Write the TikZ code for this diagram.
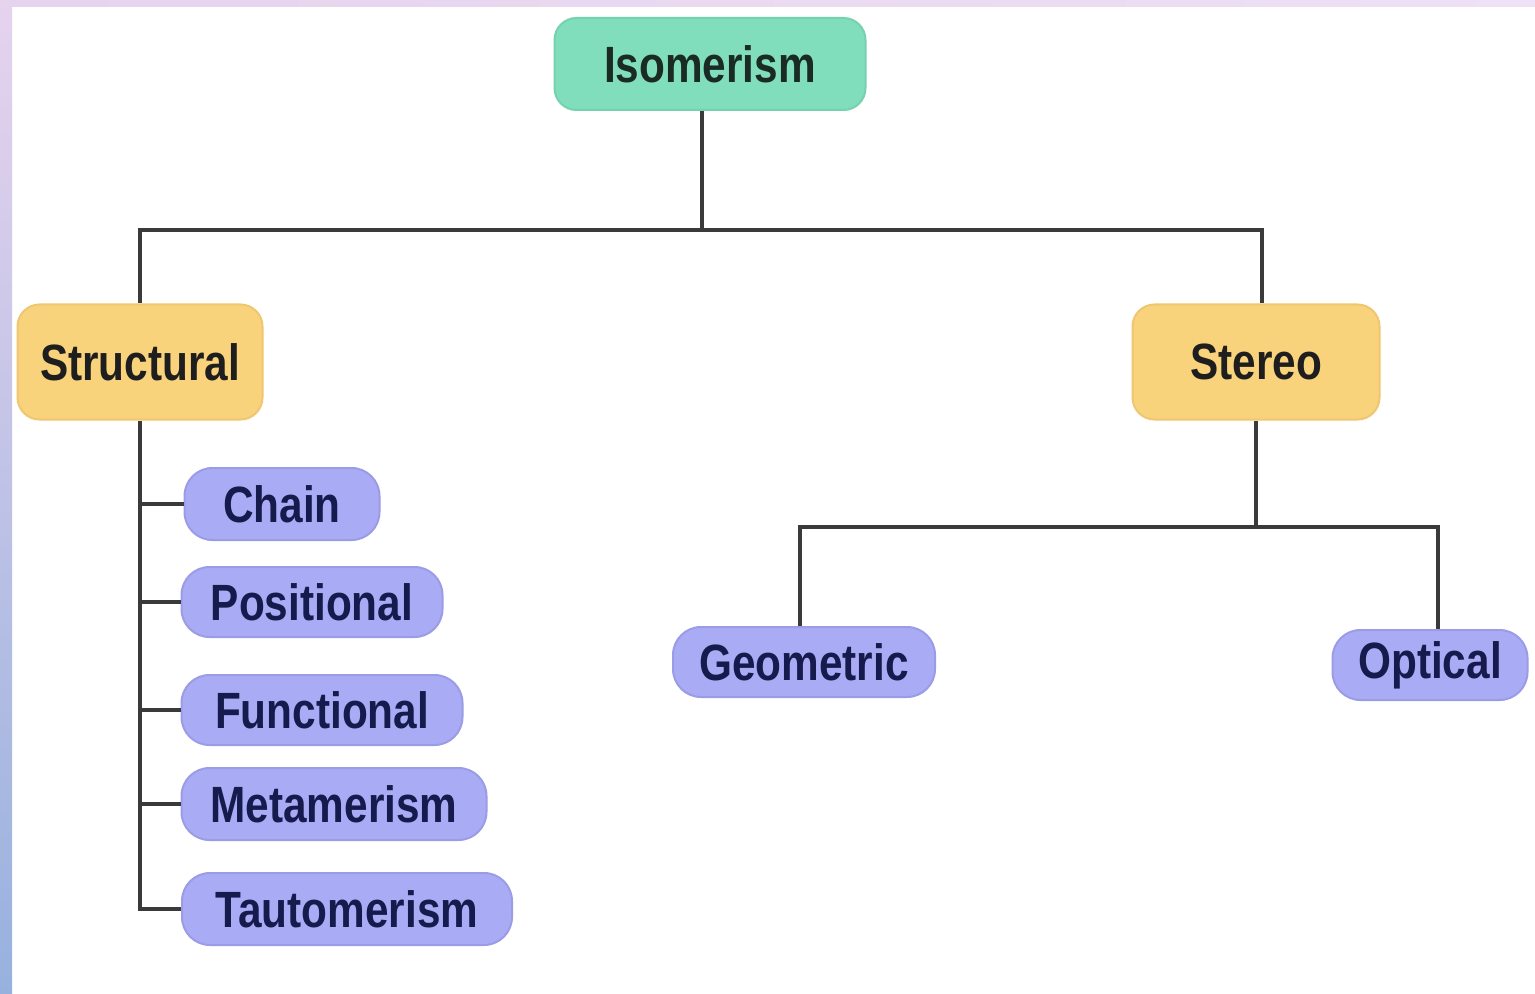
\documentclass[tikz,border=0pt]{standalone}
\usepackage{fontspec}
\setmainfont{Liberation Sans}[FakeStretch=0.83]
\usetikzlibrary{positioning}
\definecolor{mint}{HTML}{80DEBD}
\definecolor{mintedge}{HTML}{74D2B0}
\definecolor{gold}{HTML}{F9D27C}
\definecolor{goldedge}{HTML}{F0C670}
\definecolor{lav}{HTML}{A9ABF5}
\definecolor{lavedge}{HTML}{9A9CE6}
\definecolor{wire}{HTML}{3A3A3A}
\definecolor{txtdark}{HTML}{1E1E1E}
\definecolor{txtnavy}{HTML}{161A4C}
\definecolor{txtgreen}{HTML}{1A2A25}
\tikzset{
  box/.style={rectangle, rounded corners=11pt, inner sep=0pt, line width=1pt,
    font=\bfseries\fontsize{25.5}{28}\selectfont},
  rootbox/.style={box, fill=mint, draw=mintedge, text=txtgreen},
  catbox/.style={box, fill=gold, draw=goldedge, text=txtdark},
  leafbox/.style={box, fill=lav, draw=lavedge, text=txtnavy, rounded corners=14pt},
  wireline/.style={draw=wire, line width=2pt}
}
\begin{document}
\begin{tikzpicture}[x=0.5pt,y=-0.5pt]
\useasboundingbox (0,0) rectangle (1535,994);
\fill[white] (0,0) rectangle (1535,994);
\shade[top color={rgb,255:red,230;green,211;blue,238}, bottom color={rgb,255:red,151;green,177;blue,222}] (0,0) rectangle (12,994);
\shade[left color={rgb,255:red,230;green,211;blue,238}, right color={rgb,255:red,238;green,224;blue,245}] (12,0) rectangle (1535,7);

% nodes
\node[rootbox, minimum width=155.5pt, minimum height=46pt] (iso) at (710,64) {Isomerism};
\node[catbox, minimum width=122.5pt, minimum height=57.5pt] (struct) at (140,362) {Structural};
\node[catbox, minimum width=123.5pt, minimum height=57.5pt] (stereo) at (1256,362) {Stereo};
\node[leafbox, minimum width=97.5pt, minimum height=36pt] (chain) at (282,504) {Chain};
\node[leafbox, minimum width=130.5pt, minimum height=35pt] (pos) at (312,602) {Positional};
\node[leafbox, minimum width=140.5pt, minimum height=35pt] (func) at (322,710) {Functional};
\node[leafbox, minimum width=152.5pt, minimum height=36pt] (meta) at (334,804) {Metamerism};
\node[leafbox, minimum width=165pt, minimum height=36pt] (taut) at (347,909) {Tautomerism};
\node[leafbox, minimum width=131pt, minimum height=35pt] (geo) at (804,662) {Geometric};
\node[leafbox, minimum width=97.5pt, minimum height=35pt] (opt) at (1430,665) {Optical};

% junction coordinates
\coordinate (bus) at (702,230);
\coordinate (bus2) at (1256,527);
\coordinate (stdrop) at ([xshift=3pt]stereo.north);
\coordinate (geodrop) at ([xshift=-2pt]geo.north);
\coordinate (optdrop) at ([xshift=4pt]opt.north);

% connectors
\draw[wireline] (iso.south -| bus) -- (bus);
\draw[wireline] (struct.north) |- (bus) -| (stdrop);
\draw[wireline] (struct.south) -- (struct.south |- taut.west) -- (taut.west);
\draw[wireline] (struct.south |- chain.west) -- (chain.west);
\draw[wireline] (struct.south |- pos.west) -- (pos.west);
\draw[wireline] (struct.south |- func.west) -- (func.west);
\draw[wireline] (struct.south |- meta.west) -- (meta.west);
\draw[wireline] (stereo.south) -- (bus2);
\draw[wireline] (geodrop) |- (bus2) -| (optdrop);
\end{tikzpicture}
\end{document}
